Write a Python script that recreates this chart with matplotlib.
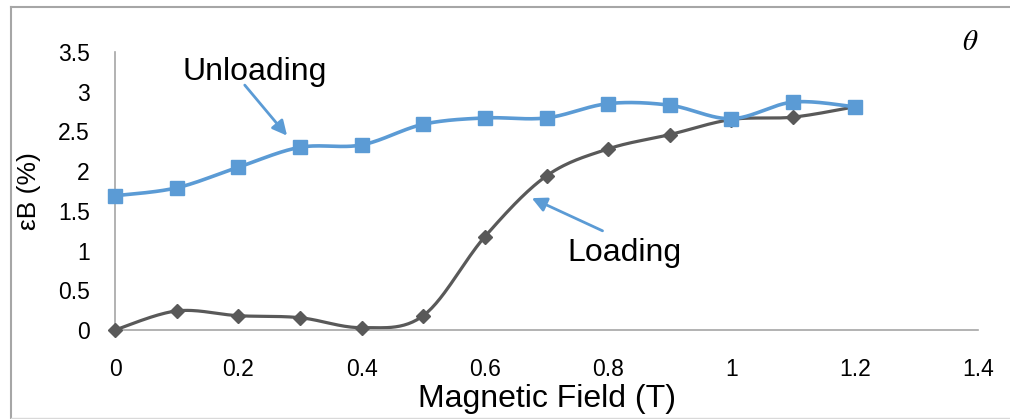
import numpy as np
import matplotlib.pyplot as plt
from matplotlib.lines import Line2D

plt.rcParams['font.family'] = ['Liberation Sans', 'DejaVu Sans']

# Data
field = [0, 0.1, 0.2, 0.3, 0.4, 0.5, 0.6, 0.7, 0.8, 0.9, 1.0, 1.1, 1.2]
unloading = [1.69, 1.79, 2.05, 2.30, 2.33, 2.59, 2.67, 2.67, 2.85, 2.83, 2.66, 2.87, 2.81]
loading = [0.0, 0.24, 0.18, 0.155, 0.03, 0.18, 1.175, 1.94, 2.28, 2.46, 2.65, 2.68, 2.81]

x_ticks = [0, 0.2, 0.4, 0.6, 0.8, 1, 1.2, 1.4]
y_ticks = [0, 0.5, 1, 1.5, 2, 2.5, 3, 3.5]

blue = '#5B9BD5'
gray = '#595959'


# Excel-style smoothed line through the points (cubic Bezier segments)
def smooth(xs, ys, n=30):
    p = np.column_stack([xs, ys]).astype(float)
    out = []
    for i in range(len(p) - 1):
        p0 = p[i - 1] if i > 0 else p[i]
        p1, p2 = p[i], p[i + 1]
        p3 = p[i + 2] if i + 2 < len(p) else p[i + 1]
        c1 = p1 + (p2 - p0) / 6
        c2 = p2 - (p3 - p1) / 6
        t = np.linspace(0, 1, n)[:, None]
        seg = ((1 - t) ** 3) * p1 + 3 * ((1 - t) ** 2) * t * c1 + 3 * (1 - t) * t ** 2 * c2 + t ** 3 * p2
        out.append(seg if i == 0 else seg[1:])
    out = np.vstack(out)
    return out[:, 0], out[:, 1]


fig = plt.figure(figsize=(10.1, 4.19), dpi=100)
ax = fig.add_axes([115 / 1010, 1 - 330 / 419, (978 - 115) / 1010, (330 - 52) / 419])

sx, sy = smooth(field, loading)
ax.plot(sx, sy, color=gray, lw=2.3, zorder=2)
ax.plot(field, loading, ls='none', marker='D', ms=7, color=gray, zorder=3, clip_on=False)

sx, sy = smooth(field, unloading)
ax.plot(sx, sy, color=blue, lw=2.6, zorder=4)
ax.plot(field, unloading, ls='none', marker='s', ms=9.5, color=blue, zorder=5, clip_on=False)

ax.set_xlim(0, 1.4)
ax.set_ylim(0, 3.5)
ax.set_xticks(x_ticks)
ax.set_xticklabels(['0', '0.2', '0.4', '0.6', '0.8', '1', '1.2', '1.4'])
ax.set_yticks(y_ticks)
ax.set_yticklabels(['0', '0.5', '1', '1.5', '2', '2.5', '3', '3.5'])
ax.tick_params(length=0, labelsize=16.5, colors='black')
ax.tick_params(axis='x', pad=20)
ax.tick_params(axis='y', pad=18)

for s in ['top', 'right']:
    ax.spines[s].set_visible(False)
for s in ['left', 'bottom']:
    ax.spines[s].set_color('#A6A6A6')
    ax.spines[s].set_linewidth(1.2)

ax.set_xlabel('Magnetic Field (T)', fontsize=23, labelpad=2)
ax.set_ylabel('εB (%)', fontsize=19, labelpad=12)

# annotations
ax.annotate('', xy=(0.282, 2.42), xytext=(0.2076, 3.11),
            arrowprops=dict(arrowstyle='-|>', color=blue, lw=2, mutation_scale=22))
ax.text(0.227, 3.25, 'Unloading', fontsize=23, ha='center', va='center')
ax.annotate('', xy=(0.672, 1.675), xytext=(0.795, 1.234),
            arrowprops=dict(arrowstyle='-|>', color=blue, lw=2, mutation_scale=22))
ax.text(0.826, 0.97, 'Loading', fontsize=23, ha='center', va='center')

fig.text(970 / 1010, 1 - 42 / 419, r'$\theta$', fontsize=21, ha='center', va='center',
         math_fontfamily='stix')

# outer frame
fig.add_artist(Line2D([10.5 / 1010, 10.5 / 1010], [0, 1 - 7.5 / 419], color='#A6A6A6', lw=1.5))
fig.add_artist(Line2D([10.5 / 1010, 1], [1 - 7.5 / 419, 1 - 7.5 / 419], color='#A6A6A6', lw=1.5))
fig.add_artist(Line2D([10.5 / 1010, 1], [1 / 419, 1 / 419], color='#D9D9D9', lw=1))

fig.savefig('out.png', dpi=100)
